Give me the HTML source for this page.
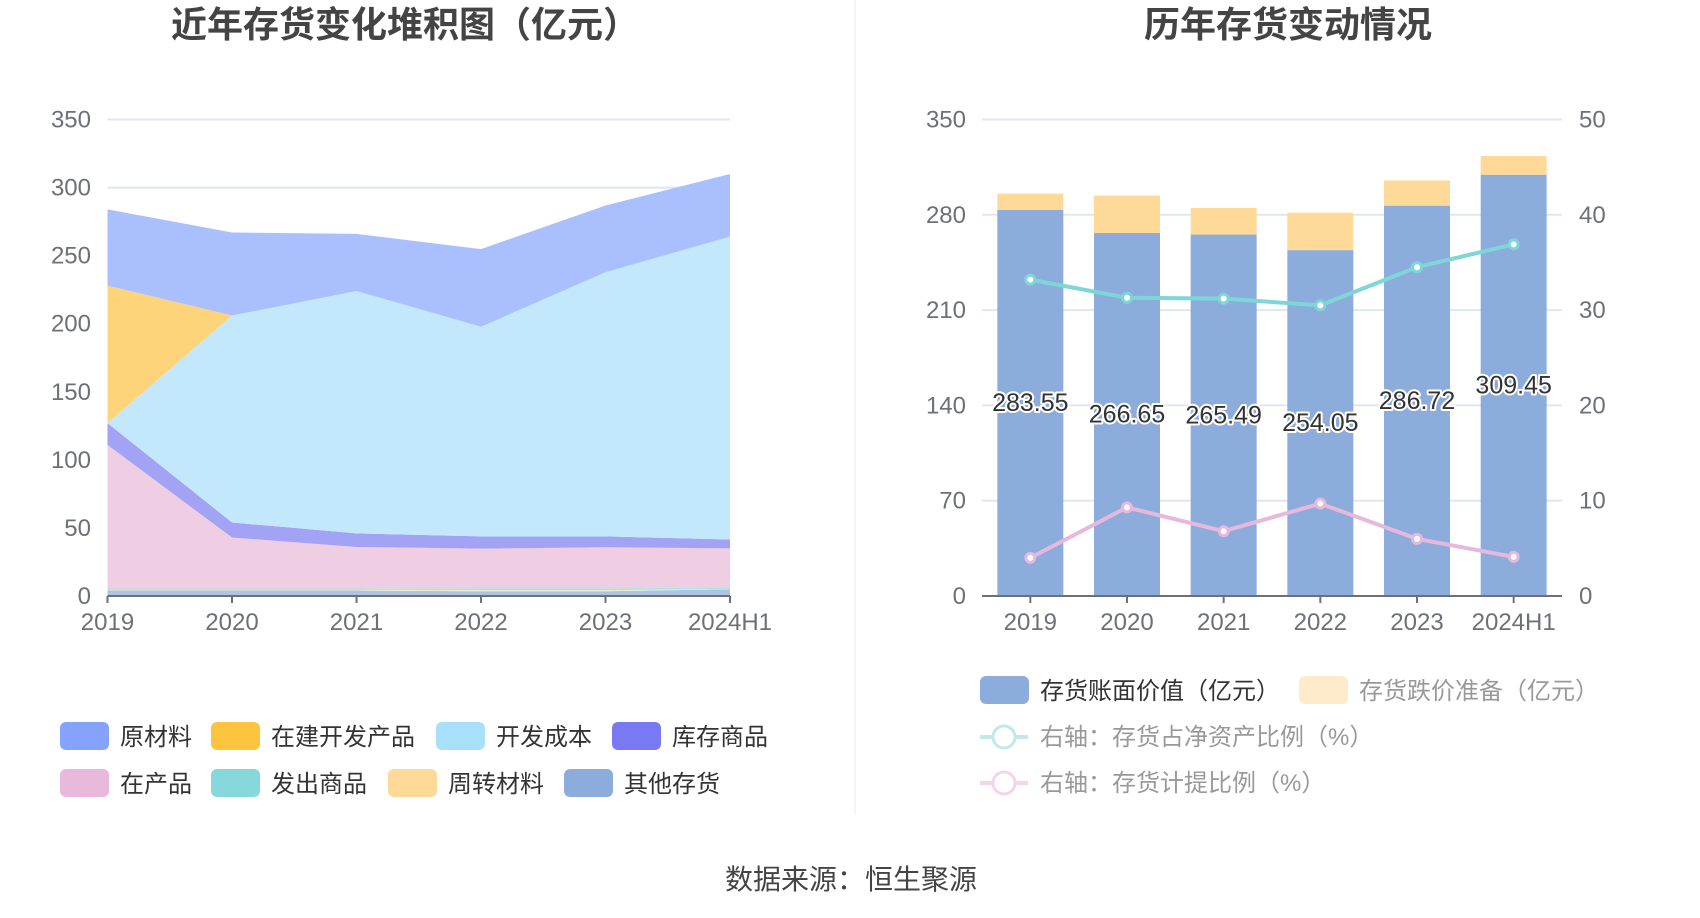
<!DOCTYPE html>
<html><head><meta charset="utf-8"><style>
html,body{margin:0;padding:0;background:#fff;width:1700px;height:918px;overflow:hidden}
svg{display:block;font-family:"Liberation Sans","Noto Sans CJK SC",sans-serif}
</style></head><body>
<svg id="svg" width="1700" height="918" viewBox="0 0 1700 918">
<text x="405" y="37" text-anchor="middle" font-size="36" font-weight="bold" fill="#444">近年存货变化堆积图（亿元）</text>
<text x="1288" y="37" text-anchor="middle" font-size="36" font-weight="bold" fill="#444">历年存货变动情况</text>
<line x1="855" y1="0" x2="855" y2="815" stroke="#eee" stroke-width="1"/>
<g id="left"></g>
<g id="right"></g>
<g>
 <g><rect x="60" y="722" width="49" height="28" rx="6" fill="#85a3fd"/><text x="120" y="745" font-size="24" fill="#333">原材料</text></g>
 <g><rect x="211" y="722" width="49" height="28" rx="6" fill="#fdc43e"/><text x="271" y="745" font-size="24" fill="#333">在建开发产品</text></g>
 <g><rect x="436" y="722" width="49" height="28" rx="6" fill="#a8e0f9"/><text x="496" y="745" font-size="24" fill="#333">开发成本</text></g>
 <g><rect x="612" y="722" width="49" height="28" rx="6" fill="#7879f3"/><text x="672" y="745" font-size="24" fill="#333">库存商品</text></g>
 <g><rect x="60" y="769" width="49" height="28" rx="6" fill="#e8b9da"/><text x="120" y="792" font-size="24" fill="#333">在产品</text></g>
 <g><rect x="211" y="769" width="49" height="28" rx="6" fill="#86d8da"/><text x="271" y="792" font-size="24" fill="#333">发出商品</text></g>
 <g><rect x="388" y="769" width="49" height="28" rx="6" fill="#fed997"/><text x="448" y="792" font-size="24" fill="#333">周转材料</text></g>
 <g><rect x="564" y="769" width="49" height="28" rx="6" fill="#8caddb"/><text x="624" y="792" font-size="24" fill="#333">其他存货</text></g>
</g>
<g>
 <g><rect x="980" y="676" width="49" height="28" rx="6" fill="#8caddb"/><text x="1040" y="699" font-size="24" fill="#333">存货账面价值（亿元）</text></g>
 <g><rect x="1299" y="676" width="49" height="28" rx="6" fill="#ffebcc"/><text x="1359" y="699" font-size="24" fill="#999">存货跌价准备（亿元）</text></g>
 <g><line x1="980" y1="737" x2="1028" y2="737" stroke="#bfeaea" stroke-width="4"/><circle cx="1004" cy="737" r="11" fill="#fff" stroke="#bfeaea" stroke-width="3"/><text x="1040" y="745" font-size="24" fill="#999">右轴：存货占净资产比例（%）</text></g>
 <g><line x1="980" y1="783" x2="1028" y2="783" stroke="#f3d5ea" stroke-width="4"/><circle cx="1004" cy="783" r="11" fill="#fff" stroke="#f3d5ea" stroke-width="3"/><text x="1040" y="791" font-size="24" fill="#999">右轴：存货计提比例（%）</text></g>
</g>
<text x="851" y="889" text-anchor="middle" font-size="28" fill="#444">数据来源：恒生聚源</text>
</svg>
<script>
const NS='http://www.w3.org/2000/svg';
const years=['2019','2020','2021','2022','2023','2024H1'];
const leftTicks=[0,50,100,150,200,250,300,350];
// stacked series, bottom to top
const otherInv=[4,4,4,3.5,3.5,5];
const turnoverMat=[0.5,0.5,0.5,0.8,0.8,0.2];
const shippedGoods=[1,1,1,1.5,1.5,1];
const wip=[105.5,37.5,30.5,29,30,28.8];
const stockGoods=[16,11,10,9,8,6.5];
const devCost=[0,152,178,154,194,222.5];
const construction=[101,0,0,0,0,0];
const rawMat=[56,61,42,57,49,46];
// right chart
const bookValue=[283.55,266.65,265.49,254.05,286.72,309.45];
const provision=[12,27.5,19.5,27.5,18.5,13.7];
const netAssetRatio=[33.2,31.3,31.2,30.5,34.5,36.9];
const provisionRatio=[4.0,9.3,6.8,9.7,6.0,4.1];
const rightTicksL=[0,70,140,210,280,350];
const rightTicksR=[0,10,20,30,40,50];

function el(tag,attrs,parent,txt){const e=document.createElementNS(NS,tag);for(const k in attrs)e.setAttribute(k,attrs[k]);if(txt!=null)e.textContent=txt;parent.appendChild(e);return e;}
const top0=119.5,bot0=596;
const L=document.getElementById('left');
const LX0=107.5,LX1=730;
const lx=i=>LX0+i*(LX1-LX0)/(years.length-1);
const ly=v=>bot0-v/350*(bot0-top0);
leftTicks.forEach(t=>{
 if(t>0){const g=el('line',{x1:LX0,x2:LX1,y1:ly(t),y2:ly(t),stroke:'#e0e6f1','stroke-width':2},L);
 
 }
 const tx=el('text',{x:91,y:ly(t)+8,'text-anchor':'end','font-size':24,fill:'#6e7079'},L,String(t));
 
 
});
const series=[
 ['other',otherInv,'#adc4e6'],['turnover',turnoverMat,'#fee6bb'],['shipped',shippedGoods,'#a8e5e6'],
 ['wip',wip,'#efcde3'],['stock',stockGoods,'#a3a3f6'],['dev-cost',devCost,'#c4e8fb'],
 ['construction',construction,'#fdd47a'],['raw',rawMat,'#aabffd']];
let base=years.map(()=>0);
series.forEach(([n,vals,c])=>{
 const topv=base.map((b,i)=>b+vals[i]);
 let d='M'+topv.map((v,i)=>lx(i)+','+ly(v)).join('L');
 for(let i=years.length-1;i>=0;i--)d+='L'+lx(i)+','+ly(base[i]);
 d+='Z';
 const p=el('path',{d:d,fill:c},L);
 
 
 base=topv;
});
el('line',{x1:LX0,x2:LX1,y1:bot0,y2:bot0,stroke:'#6e7079','stroke-width':2},L);
years.forEach((y,i)=>{
 el('line',{x1:lx(i),x2:lx(i),y1:bot0,y2:bot0+7,stroke:'#6e7079','stroke-width':2},L);
 const t=el('text',{x:lx(i),y:630,'text-anchor':'middle','font-size':24,fill:'#6e7079'},L,y);
 
 
});

const R=document.getElementById('right');
const x0=982,x1=1562,bw=(x1-x0)/years.length;
const cx=i=>x0+bw*(i+0.5);
const ry=v=>bot0-v/350*(bot0-top0);
const ry2=v=>bot0-v/50*(bot0-top0);
rightTicksL.forEach((t,k)=>{
 if(t>0){const g=el('line',{x1:x0,x2:x1,y1:ry(t),y2:ry(t),stroke:'#e0e6f1','stroke-width':2},R);
 
 }
 const a=el('text',{x:966,y:ry(t)+8,'text-anchor':'end','font-size':24,fill:'#6e7079'},R,String(t));
 
 
});
rightTicksR.forEach(t=>{
 const a=el('text',{x:1579,y:ry2(t)+8,'text-anchor':'start','font-size':24,fill:'#6e7079'},R,String(t));
 
 
});
years.forEach((y,i)=>{
 const b=el('rect',{x:cx(i)-33,y:ry(bookValue[i]),width:66,height:bot0-ry(bookValue[i]),fill:'#8caddb'},R);
 
 
 const p=el('rect',{x:cx(i)-33,y:ry(bookValue[i]+provision[i]),width:66,height:ry(bookValue[i])-ry(bookValue[i]+provision[i]),fill:'#fed997'},R);
 
 
});
el('line',{x1:x0,x2:x1,y1:bot0,y2:bot0,stroke:'#6e7079','stroke-width':2},R);
years.forEach((y,i)=>{
 el('line',{x1:cx(i),x2:cx(i),y1:bot0,y2:bot0+7,stroke:'#6e7079','stroke-width':2},R);
 const t=el('text',{x:cx(i),y:630,'text-anchor':'middle','font-size':24,fill:'#6e7079'},R,y);
 
 
});
[[netAssetRatio,'#7fd6d6','net-asset-ratio'],[provisionRatio,'#e6b8dc','provision-ratio']].forEach(([vals,c,n])=>{
 const l=el('polyline',{points:vals.map((v,i)=>cx(i)+','+ry2(v)).join(' '),fill:'none',stroke:c,'stroke-width':4},R);
 
 
 vals.forEach((v,i)=>{
  const d=el('circle',{cx:cx(i),cy:ry2(v),r:4.5,fill:'#fff',stroke:c,'stroke-width':3},R);
  
  
 });
});
years.forEach((y,i)=>{
 const t=el('text',{x:cx(i),y:ry(bookValue[i]/2)+8,'text-anchor':'middle','font-size':25,fill:'#333',stroke:'#fff','stroke-width':4,'paint-order':'stroke','stroke-linejoin':'round'},R,bookValue[i].toFixed(2));
 
 
});
</script>
</body></html>
